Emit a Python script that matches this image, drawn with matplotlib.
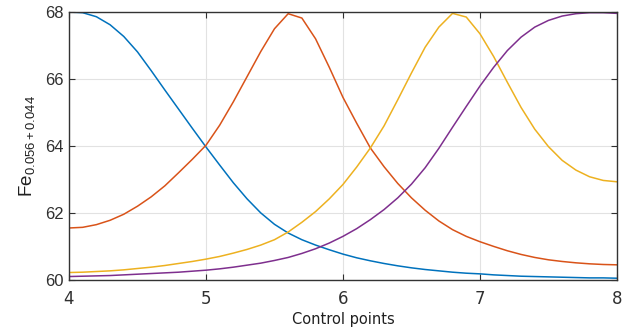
import numpy as np
import matplotlib
matplotlib.use("Agg")
import matplotlib.pyplot as plt

# control points (x) and curve values
x = [4.0, 4.1, 4.2, 4.3, 4.4, 4.5, 4.6, 4.7, 4.8, 4.9,
     5.0, 5.1, 5.2, 5.3, 5.4, 5.5, 5.6, 5.7, 5.8, 5.9,
     6.0, 6.1, 6.2, 6.3, 6.4, 6.5, 6.6, 6.7, 6.8, 6.9,
     7.0, 7.1, 7.2, 7.3, 7.4, 7.5, 7.6, 7.7, 7.8, 7.9, 8.0]

blue = [68.0, 67.98, 67.86, 67.62, 67.27, 66.81, 66.25, 65.67, 65.1, 64.53,
        63.97, 63.43, 62.9, 62.42, 62.0, 61.66, 61.4, 61.2, 61.04, 60.9,
        60.77, 60.66, 60.57, 60.49, 60.42, 60.36, 60.31, 60.27, 60.23, 60.2,
        60.18, 60.15, 60.13, 60.11, 60.1, 60.09, 60.08, 60.07, 60.06, 60.06, 60.05]

orange = [61.55, 61.57, 61.65, 61.78, 61.96, 62.2, 62.48, 62.81, 63.2, 63.6,
          64.02, 64.62, 65.32, 66.07, 66.82, 67.5, 67.95, 67.82, 67.2, 66.35,
          65.45, 64.68, 63.94, 63.38, 62.88, 62.45, 62.08, 61.76, 61.5, 61.3,
          61.14, 61.0, 60.87, 60.76, 60.67, 60.6, 60.55, 60.51, 60.48, 60.46, 60.45]

yellow = [60.22, 60.23, 60.25, 60.27, 60.3, 60.34, 60.38, 60.43, 60.49, 60.55,
          60.62, 60.7, 60.8, 60.91, 61.04, 61.2, 61.43, 61.72, 62.04, 62.42,
          62.85, 63.37, 63.94, 64.6, 65.38, 66.18, 66.95, 67.55, 67.96, 67.85,
          67.35, 66.67, 65.9, 65.15, 64.5, 63.98, 63.57, 63.28, 63.08, 62.97, 62.93]

purple = [60.1, 60.11, 60.12, 60.13, 60.15, 60.17, 60.19, 60.21, 60.23, 60.26,
          60.29, 60.33, 60.38, 60.44, 60.5, 60.58, 60.67, 60.79, 60.93, 61.1,
          61.3, 61.53, 61.8, 62.1, 62.45, 62.86, 63.35, 63.93, 64.56, 65.18,
          65.79, 66.35, 66.85, 67.25, 67.55, 67.75, 67.88, 67.95, 67.98, 67.98, 67.96]

series = [blue, orange, yellow, purple]
colors = ["#0072BD", "#D95319", "#EDB120", "#7E2F8E"]

xticks = [4, 5, 6, 7, 8]
yticks = [60, 62, 64, 66, 68]

### plotting ###
fig = plt.figure(figsize=(6.27, 3.34), dpi=100)
ax = fig.add_axes([0.110, 0.162, 0.874, 0.802])

for ys, c in zip(series, colors):
    ax.plot(x, ys, color=c, lw=1.1)

ax.set_xlim(4, 8)
ax.set_ylim(60, 68)
ax.set_xticks(xticks)
ax.set_yticks(yticks)
ax.grid(True, color="#e2e2e2", lw=0.8)
ax.set_axisbelow(True)

ax.tick_params(direction="in", top=True, right=True, length=4, width=0.8,
               colors="#303030")
for lab in ax.get_yticklabels():
    lab.set_family("Liberation Sans")
    lab.set_fontsize(12)
for lab in ax.get_xticklabels():
    lab.set_family("DejaVu Sans")
    lab.set_fontsize(12)
ax.tick_params(axis="x", pad=7)

for sp in ax.spines.values():
    sp.set_color("#333333")
    sp.set_linewidth(1.0)

ax.set_xlabel("Control points", fontsize=10.5, family="DejaVu Sans",
              color="#202020", labelpad=3)
ax.set_ylabel(r"$\mathregular{Fe_{0.056+0.044}}$", fontsize=13.5,
              family="Liberation Sans", color="#202020", labelpad=6)

plt.savefig("out.png", dpi=100)
